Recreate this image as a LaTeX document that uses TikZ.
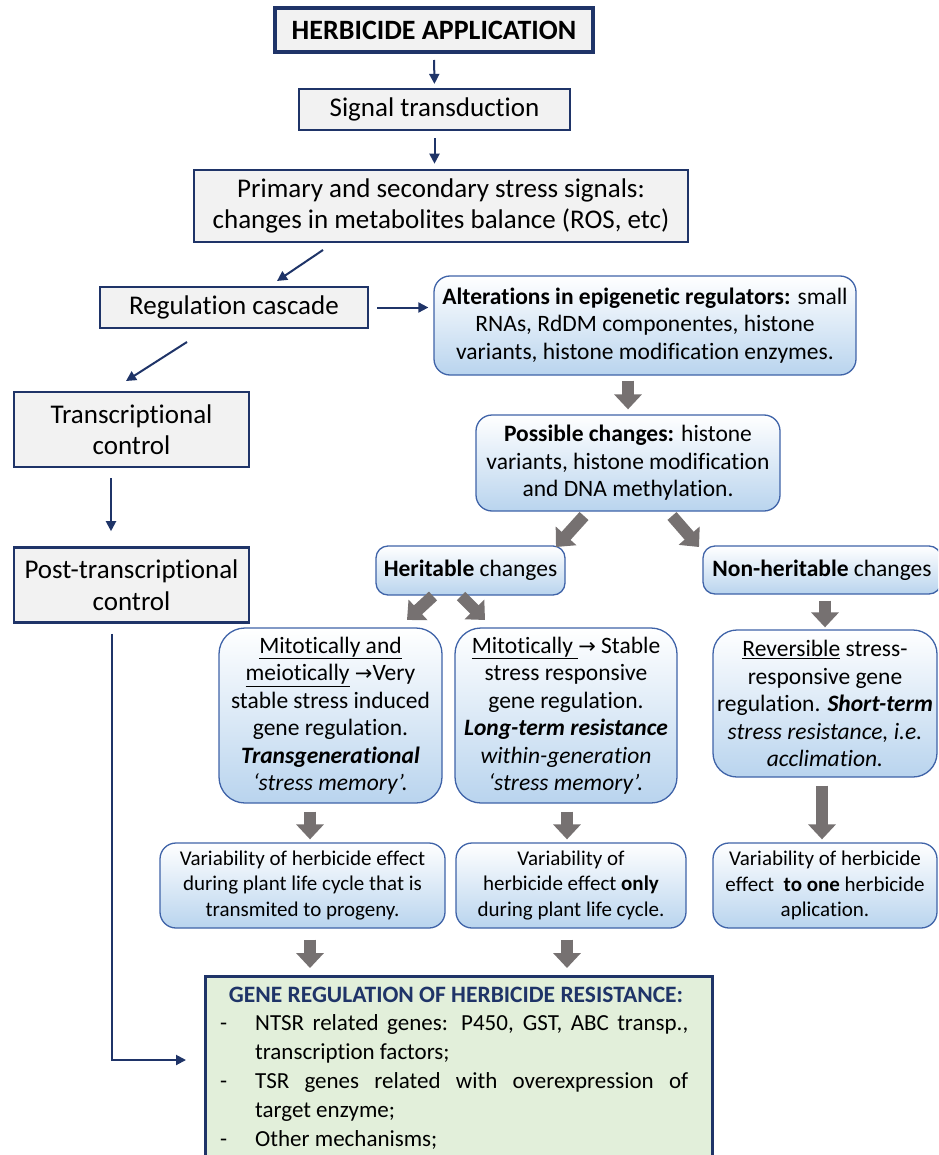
\documentclass[tikz,border=0pt]{standalone}
\usepackage{fontspec}
\setmainfont{Carlito}[Ligatures=NoCommon]
\newfontfamily\symfont{DejaVu Sans}
\usetikzlibrary{arrows.meta,calc}
\definecolor{navy}{HTML}{1F3468}
\definecolor{boxgray}{HTML}{F2F2F2}
\definecolor{bluebot}{HTML}{B9D4EE}
\definecolor{blueline}{HTML}{3F63A8}
\definecolor{greenfill}{HTML}{E2EFDA}
\definecolor{arrgray}{HTML}{767171}
\newcommand{\rarr}{{\symfont\fontsize{21}{20}\selectfont →}}
\newcommand{\dashitem}{\hangindent=37pt\hangafter=1\noindent\makebox[37pt][l]{\hspace{2pt}-}}
\tikzset{
  graybox/.style={draw=navy, line width=2.2pt, fill=boxgray, align=center, inner sep=0pt, font=\fontsize{27}{31.5}\selectfont},
  bluebox/.style={draw=blueline, line width=1.3pt, rounded corners=16pt, top color=white, bottom color=bluebot, align=center, inner sep=0pt, font=\fontsize{23.5}{27.5}\selectfont},
  varbox/.style={bluebox, font=\fontsize{21}{25.5}\selectfont},
  navyarrow/.style={draw=navy, line width=2pt, -{Triangle[width=10pt,length=10pt]}},
  fatarrow/.style={draw=arrgray, line width=12pt, -{Triangle[width=27pt,length=15pt]}},
}
\begin{document}
\begin{tikzpicture}[x=1pt,y=-1pt]
\clip (0,0) rectangle (938,1155);
\fill[white] (0,0) rectangle (938,1155);

% left column
\node[graybox, line width=4pt, minimum width=318pt, minimum height=44pt, font=\bfseries\fontsize{28}{31}\selectfont] (herb) at (434,30) {HERBICIDE APPLICATION};
\node[graybox, minimum width=271pt, minimum height=41pt] (sig) at (434.5,109.5) {Signal transduction};
\node[graybox, line width=2.6pt, minimum width=494pt, minimum height=72pt] (prim) at (441,206) {Primary and secondary stress signals:\\ changes in metabolites balance (ROS, etc)};
\node[graybox, line width=2.6pt, minimum width=268pt, minimum height=41pt] (reg) at (234,307.5) {Regulation cascade};
\node[graybox, line width=2.6pt, minimum width=235pt, minimum height=75pt] (trans) at (131.5,429.5) {Transcriptional\\ control};
\node[graybox, line width=2.6pt, minimum width=235pt, minimum height=75pt] (post) at (131.5,585) {Post-transcriptional\\ control};

% blue boxes
\node[bluebox, minimum width=422pt, minimum height=99pt] (alt) at (645,325.5) {\textbf{Alterations in epigenetic regulators:} small\\ RNAs, RdDM componentes, histone\\ variants, histone modification enzymes.};
\node[bluebox, minimum width=304pt, minimum height=96pt] (poss) at (628,463) {\textbf{Possible changes:} histone\\ variants, histone modification\\ and DNA methylation.};
\node[bluebox, rounded corners=12pt, minimum width=189pt, minimum height=49pt] (her) at (470.5,570.5) {\textbf{Heritable} changes};
\node[bluebox, rounded corners=12pt, minimum width=238pt, minimum height=48pt] (non) at (822,570) {\textbf{Non-heritable} changes};
\node[bluebox, rounded corners=26pt, minimum width=223pt, minimum height=175pt] (mit1) at (330.5,715.5) {\underline{Mitotically and}\\ \underline{meiotically} \rarr Very\\ stable stress induced\\ gene regulation.\\ \textbf{\textit{Transgenerational}}\\ \textit{‘stress memory’.}};
\node[bluebox, rounded corners=26pt, minimum width=222pt, minimum height=175pt] (mit2) at (566,715.5) {\underline{Mitotically }\rarr\ Stable\\ stress responsive\\ gene regulation.\\ \textbf{\textit{Long-term resistance}}\\ \textit{within-generation}\\ \textit{‘stress memory’.}};
\node[bluebox, rounded corners=24pt, minimum width=224pt, minimum height=147pt] (rev) at (825,703.5) {\underline{Reversible} stress-\\ responsive gene\\ regulation. \textbf{\textit{Short-term}}\\ \textit{stress resistance, i.e.}\\ \textit{acclimation.}};
\node[varbox, minimum width=285pt, minimum height=85pt] (var1) at (302.5,885.5) {Variability of herbicide effect\\ during plant life cycle that is\\ transmited to progeny.};
\node[varbox, minimum width=230pt, minimum height=85pt] (var2) at (571,885.5) {Variability of\\ herbicide effect \textbf{only}\\ during plant life cycle.};
\node[varbox, minimum width=224pt, minimum height=85pt] (var3) at (825,885.5) {Variability of herbicide\\ effect \ \textbf{to one} herbicide\\ aplication.};

% green box
\node[draw=navy, line width=2.6pt, fill=greenfill, minimum width=507pt, minimum height=200pt, anchor=north west, inner sep=0pt] (gene) at (204,975) {};
\node[anchor=north, text=navy, font=\bfseries\fontsize{23.5}{27}\selectfont, inner sep=0pt] (genetitle) at (456,987) {GENE REGULATION OF HERBICIDE RESISTANCE:};
\node[anchor=north west, inner sep=0pt, text width=470pt, align=justify, font=\fontsize{23}{29}\selectfont] (genelist) at (218,1014) {\hyphenpenalty=10000\exhyphenpenalty=10000\dashitem NTSR related genes: P450, GST, ABC transp.,\linebreak transcription factors;\par
\dashitem TSR genes related with overexpression of\linebreak target enzyme;\par
\dashitem Other mechanisms;\par};

% navy connectors
\draw[navyarrow, shorten <=6pt, shorten >=4pt] (herb.south) -- (sig.north);
\draw[navyarrow, shorten <=7pt, shorten >=5pt] (sig.south) -- (sig.south |- prim.north);
\coordinate (d1a) at (323,250);
\coordinate (d1b) at (277,281);
\draw[navyarrow] (d1a) -- (d1b);
\draw[navyarrow, shorten <=8pt, shorten >=5pt] (reg.east) -- (reg.east -| alt.west);
\coordinate (d2a) at (187,342);
\coordinate (d2b) at (126,381);
\draw[navyarrow] (d2a) -- (d2b);
\draw[navyarrow, shorten <=10pt, shorten >=15pt] (111,0 |- trans.south) -- (111,0 |- post.north);
\coordinate (lcorner) at (112,1060);
\coordinate (lend) at (186,1060);
\draw[navyarrow, shorten <=10pt] (112,0 |- post.south) -- (lcorner) -- (lend);

% gray block arrows
\draw[fatarrow, shorten <=5pt, shorten >=5pt] (alt.south -| 628,0) -- (poss.north -| 628,0);
\coordinate (p1a) at (584,516);
\coordinate (p1b) at (556,547);
\draw[fatarrow] (p1a) -- (p1b);
\coordinate (p2a) at (672,516);
\coordinate (p2b) at (699,547);
\draw[fatarrow] (p2a) -- (p2b);
\coordinate (h1a) at (433,596);
\coordinate (h1b) at (407,620);
\draw[fatarrow] (h1a) -- (h1b);
\coordinate (h2a) at (461,596);
\coordinate (h2b) at (485,620);
\draw[fatarrow] (h2a) -- (h2b);
\draw[fatarrow, shorten <=6pt, shorten >=2pt] (non.south -| rev.north) -- (rev.north);
\draw[fatarrow, shorten <=8pt, shorten >=3pt] (mit1.south -| 310,0) -- (var1.north -| 310,0);
\draw[fatarrow, shorten <=8pt, shorten >=3pt] (mit2.south -| 567,0) -- (var2.north -| 567,0);
\draw[fatarrow, shorten <=8pt, shorten >=3pt] (rev.south -| 822,0) -- (var3.north -| 822,0);
\draw[fatarrow, shorten <=11pt, shorten >=7pt] (var1.south -| 310,0) -- (gene.north -| 310,0);
\draw[fatarrow, shorten <=11pt, shorten >=7pt] (var2.south -| 567,0) -- (gene.north -| 567,0);
\end{tikzpicture}
\end{document}
